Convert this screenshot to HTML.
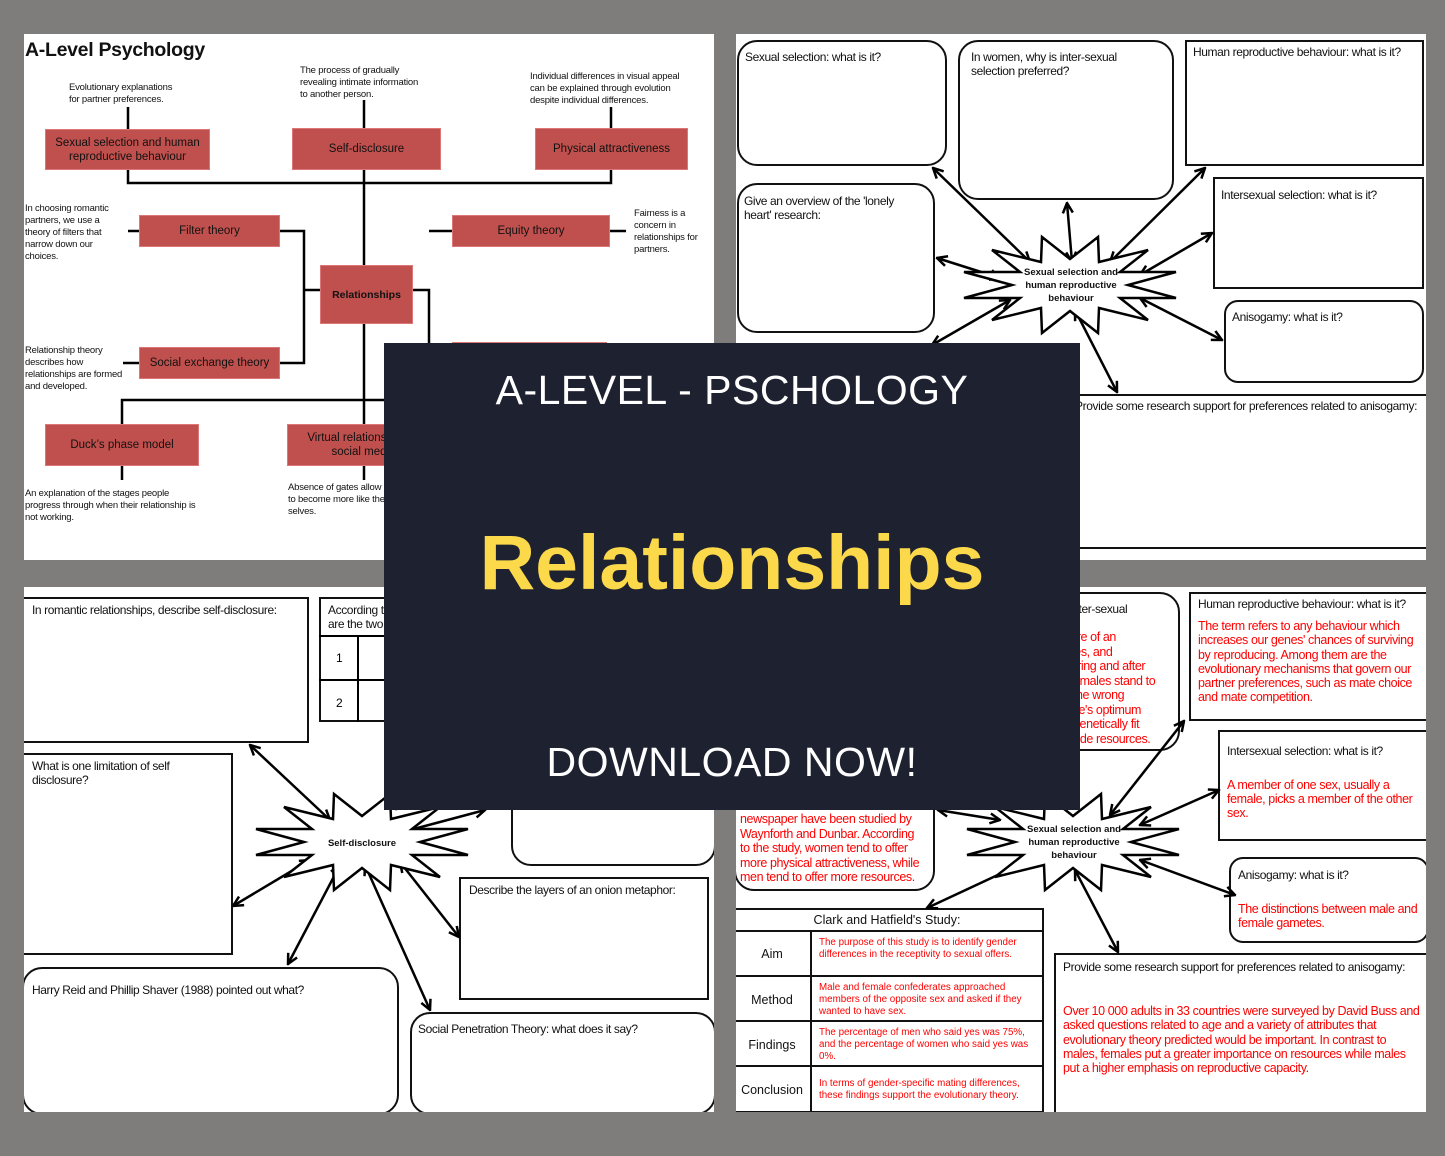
<!DOCTYPE html>
<html><head><meta charset="utf-8"><style>
*{margin:0;padding:0;box-sizing:border-box}
body{width:1445px;height:1156px;background:#7f7c7c;position:relative;overflow:hidden;font-family:"Liberation Sans",Arial,sans-serif;color:#111}
.p{position:absolute;background:#fff;overflow:hidden}
.a{position:absolute}
.g{position:absolute;background:#7f7c7c}
.r{position:absolute;background:#c0504d;border:1px solid #d77;color:#111;font-size:11.5px;display:flex;align-items:center;justify-content:center;text-align:center;line-height:14px}
.t{position:absolute;font-size:9.5px;line-height:12px;letter-spacing:-0.2px}
.b{position:absolute;border:2px solid #111;background:#fff;font-size:12px;letter-spacing:-0.4px;padding:6px 6px;line-height:14px;white-space:nowrap}
.red{color:#f00}
svg{position:absolute;left:0;top:0}
</style></head><body>

<div class="p" style="left:24px;top:34px;width:690px;height:526px"></div>
<div class="p" style="left:736px;top:34px;width:690px;height:526px"></div>
<div class="p" style="left:24px;top:587px;width:690px;height:525px"></div>
<div class="p" style="left:736px;top:587px;width:690px;height:525px"></div>

<svg width="1445" height="1156">
<g stroke="#000" stroke-width="2.5" fill="none">
<path d="M128 107V129M364 100V425M611 107V128M128 170V183H611V170"/>
<path d="M280 231H304V363H280M304 290H320M413 290H429V400M429 231H452M128 231H139M123 363H139M610 231H626"/>
<path d="M122 424V400H430M122 466V480M364 466V480"/>
</g>
</svg>

<div class="a" style="left:25px;top:39px;font-size:19.5px;font-weight:bold;letter-spacing:-0.3px">A-Level Psychology</div>
<div class="t" style="left:69px;top:82px">Evolutionary explanations<br>for partner preferences.</div>
<div class="t" style="left:300px;top:65px">The process of gradually<br>revealing intimate information<br>to another person.</div>
<div class="t" style="left:530px;top:71px">Individual differences in visual appeal<br>can be explained through evolution<br>despite individual differences.</div>
<div class="t" style="left:25px;top:203px">In choosing romantic<br>partners, we use a<br>theory of filters that<br>narrow down our<br>choices.</div>
<div class="t" style="left:634px;top:208px">Fairness is a<br>concern in<br>relationships for<br>partners.</div>
<div class="t" style="left:25px;top:345px">Relationship theory<br>describes how<br>relationships are formed<br>and developed.</div>
<div class="t" style="left:25px;top:488px">An explanation of the stages people<br>progress through when their relationship is<br>not working.</div>
<div class="t" style="left:288px;top:482px">Absence of gates allow people<br>to become more like their<br>selves.</div>

<div class="r" style="left:45px;top:129px;width:165px;height:41px">Sexual selection and human<br>reproductive behaviour</div>
<div class="r" style="left:292px;top:128px;width:149px;height:42px">Self-disclosure</div>
<div class="r" style="left:535px;top:128px;width:153px;height:42px">Physical attractiveness</div>
<div class="r" style="left:139px;top:215px;width:141px;height:32px">Filter theory</div>
<div class="r" style="left:452px;top:215px;width:158px;height:32px">Equity theory</div>
<div class="r" style="left:320px;top:265px;width:93px;height:59px;font-weight:bold;font-size:10.5px">Relationships</div>
<div class="r" style="left:139px;top:347px;width:141px;height:32px">Social exchange theory</div>
<div class="r" style="left:452px;top:342px;width:155px;height:32px"></div>
<div class="r" style="left:45px;top:424px;width:154px;height:42px">Duck’s phase model</div>
<div class="r" style="left:287px;top:424px;width:153px;height:42px">Virtual relationships in<br>social media</div>

<!-- TR -->
<div class="b" style="left:737px;top:40px;width:210px;height:126px;border-radius:20px;padding:8px 6px">Sexual selection: what is it?</div>
<div class="b" style="left:958px;top:40px;width:216px;height:160px;border-radius:20px;padding:8px 11px">In women, why is inter-sexual<br>selection preferred?</div>
<div class="b" style="left:1185px;top:40px;width:239px;height:126px;padding:3px 6px">Human reproductive behaviour: what is it?</div>
<div class="b" style="left:737px;top:183px;width:198px;height:150px;border-radius:20px;padding:9px 5px">Give an overview of the 'lonely<br>heart' research:</div>
<div class="b" style="left:1213px;top:177px;width:211px;height:112px;padding:9px 6px">Intersexual selection: what is it?</div>
<div class="b" style="left:1224px;top:300px;width:200px;height:83px;border-radius:14px;padding:8px 6px">Anisogamy: what is it?</div>
<div class="b" style="left:740px;top:394px;width:700px;height:155px;padding:3px 0 0 333px">Provide some research support for preferences related to anisogamy:</div>

<!-- BL -->
<div class="b" style="left:22px;top:597px;width:287px;height:146px;padding:4px 8px">In romantic relationships, describe self-disclosure:</div>
<div class="b" style="left:319px;top:597px;width:120px;height:125px;padding:4px 7px">According to ... what<br>are the two ...</div>
<svg width="1445" height="1156"><g stroke="#000" stroke-width="2" fill="none"><path d="M319 636H439M319 680H439M358 636V722"/></g>
<text x="336" y="662" font-size="12" font-family="Liberation Sans">1</text><text x="336" y="707" font-size="12" font-family="Liberation Sans">2</text></svg>
<div class="b" style="left:22px;top:753px;width:211px;height:202px;padding:4px 8px">What is one limitation of self<br>disclosure?</div>
<div class="b" style="left:22px;top:967px;width:377px;height:148px;border-radius:20px;padding:14px 8px">Harry Reid and Phillip Shaver (1988) pointed out what?</div>
<div class="b" style="left:410px;top:1012px;width:306px;height:103px;border-radius:20px;padding:8px 6px">Social Penetration Theory: what does it say?</div>
<div class="b" style="left:459px;top:877px;width:250px;height:123px;padding:4px 8px">Describe the layers of an onion metaphor:</div>
<div class="b" style="left:511px;top:760px;width:205px;height:106px;border-radius:20px"></div>

<!-- BR -->
<div class="b" style="left:960px;top:592px;width:220px;height:159px;border-radius:20px;padding:8px 8px"><span style="margin-left:100px">inter-sexual</span><div class="red" style="margin-top:14px;padding-left:40px;line-height:14.5px;font-size:12.5px">providing more of an<br>their resources, and<br>protection during and after<br>pregnancy, females stand to<br>lose more if the wrong<br>choice. A male's optimum<br>is someone genetically fit<br>and can provide resources.</div></div>
<div class="b" style="left:1189px;top:592px;width:240px;height:129px;padding:3px 7px">Human reproductive behaviour: what is it?<div class="red" style="margin-top:8px;font-size:12.5px;line-height:14.3px">The term refers to any behaviour which<br>increases our genes' chances of surviving<br>by reproducing. Among them are the<br>evolutionary mechanisms that govern our<br>partner preferences, such as mate choice<br>and mate competition.</div></div>
<div class="b" style="left:1218px;top:730px;width:211px;height:111px;padding:12px 7px">Intersexual selection: what is it?<div class="red" style="margin-top:20px;font-size:12.5px">A member of one sex, usually a<br>female, picks a member of the other<br>sex.</div></div>
<div class="b" style="left:1229px;top:857px;width:200px;height:86px;border-radius:14px;padding:9px 7px">Anisogamy: what is it?<div class="red" style="margin-top:20px;font-size:12.5px">The distinctions between male and<br>female gametes.</div></div>
<div class="b" style="left:1054px;top:953px;width:376px;height:162px;padding:5px 7px">Provide some research support for preferences related to anisogamy:<div class="red" style="margin-top:30px;font-size:12.5px;line-height:14.3px">Over 10 000 adults in 33 countries were surveyed by David Buss and<br>asked questions related to age and a variety of attributes that<br>evolutionary theory predicted would be important.  In contrast to<br>males, females put a greater importance on resources while males<br>put a higher emphasis on reproductive capacity.</div></div>
<div class="b" style="left:734px;top:700px;width:201px;height:191px;border-radius:20px;padding:0 4px"><div class="red" style="position:absolute;left:4px;top:110px;font-size:12.5px;line-height:14.5px">newspaper have been studied by<br>Waynforth and Dunbar. According<br>to the study, women tend to offer<br>more physical attractiveness, while<br>men tend to offer more resources.</div></div>

<div class="a" style="left:736px;top:908px;width:308px;height:205px;border:2px solid #111;background:#fff;border-left:none"></div>
<svg width="1445" height="1156"><g stroke="#111" stroke-width="2" fill="none"><path d="M736 931H1043M736 976H1043M736 1021H1043M736 1066H1043M811 931V1112"/></g>
<g font-family="Liberation Sans" font-size="12.5" fill="#111" text-anchor="middle"><text x="887" y="924">Clark and Hatfield's Study:</text><text x="772" y="958">Aim</text><text x="772" y="1004">Method</text><text x="772" y="1049">Findings</text><text x="772" y="1094">Conclusion</text></g>
<g font-family="Liberation Sans" font-size="9.8" fill="#f00"><text x="819" y="945">The purpose of this study is to identify gender</text><text x="819" y="957">differences in the receptivity to sexual offers.</text>
<text x="819" y="990">Male and female confederates approached</text><text x="819" y="1002">members of the opposite sex and asked if they</text><text x="819" y="1014">wanted to have sex.</text>
<text x="819" y="1035">The percentage of men who said yes was 75%,</text><text x="819" y="1047">and the percentage of women who said yes was</text><text x="819" y="1059">0%.</text>
<text x="819" y="1086">In terms of gender-specific mating differences,</text><text x="819" y="1098">these findings support the evolutionary theory.</text></g></svg>

<svg width="1445" height="1156">
<defs><marker id="m" viewBox="0 0 10 10" refX="9" refY="5" markerWidth="5" markerHeight="5" orient="auto-start-reverse"><path d="M1 1L9 5L1 9" fill="none" stroke="#000" stroke-width="2"/></marker></defs>
<g stroke="#000" stroke-width="2.5" fill="none" marker-start="url(#m)" marker-end="url(#m)">
<path d="M1030 262L933 168"/><path d="M1072 262L1067 203"/><path d="M1110 262L1205 168"/><path d="M1140 275L1212 233"/><path d="M1140 298L1222 340"/><path d="M1075 310L1117 392"/><path d="M1000 278L937 258"/><path d="M1010 300L932 345"/>
<path d="M330 820L250 745"/><path d="M310 860L233 906"/><path d="M340 865L288 964"/><path d="M365 865L430 1010"/><path d="M400 862L459 937"/><path d="M410 830L485 810"/><path d="M375 820L400 800"/>
<path d="M1030 860L927 908"/><path d="M1075 870L1118 952"/><path d="M1140 860L1235 895"/><path d="M1140 825L1219 790"/><path d="M1110 815L1184 721"/><path d="M1000 820L938 810"/>
</g>
<g stroke="#000" stroke-width="2.5" fill="#fff">
<polygon transform="translate(1070,285)" points="58,0 106,13 50,13 78,35 29,23 28,48 0,26 -28,48 -29,23 -78,35 -50,13 -106,13 -58,0 -106,-13 -50,-13 -78,-35 -29,-23 -28,-48 0,-26 28,-48 29,-23 78,-35 50,-13 106,-13"/>
<polygon transform="translate(362,842)" points="58,0 106,13 50,13 78,35 29,23 28,48 0,26 -28,48 -29,23 -78,35 -50,13 -106,13 -58,0 -106,-13 -50,-13 -78,-35 -29,-23 -28,-48 0,-26 28,-48 29,-23 78,-35 50,-13 106,-13"/>
<polygon transform="translate(1073,842)" points="58,0 106,13 50,13 78,35 29,23 28,48 0,26 -28,48 -29,23 -78,35 -50,13 -106,13 -58,0 -106,-13 -50,-13 -78,-35 -29,-23 -28,-48 0,-26 28,-48 29,-23 78,-35 50,-13 106,-13"/>
</g>
<g font-family="Liberation Sans" font-size="9.5" font-weight="bold" text-anchor="middle" fill="#111">
<text x="1071" y="275">Sexual selection and</text><text x="1071" y="288">human reproductive</text><text x="1071" y="301">behaviour</text>
<text x="362" y="846">Self-disclosure</text>
<text x="1074" y="832">Sexual selection and</text><text x="1074" y="845">human reproductive</text><text x="1074" y="858">behaviour</text>
</g>
</svg>

<!-- gray gutters -->
<div class="g" style="left:1426px;top:0;width:19px;height:1156px"></div>
<div class="g" style="left:714px;top:0;width:22px;height:1156px"></div>
<div class="g" style="left:0;top:1112px;width:1445px;height:44px"></div>
<div class="g" style="left:0;top:560px;width:1445px;height:27px"></div>
<div class="g" style="left:0;top:0;width:24px;height:1156px"></div>

<div class="a" style="left:384px;top:343px;width:696px;height:467px;background:#1e2130;color:#fff;text-align:center">
<div style="position:absolute;top:24px;width:100%;font-size:41px;letter-spacing:0.5px;font-family:'Liberation Sans',sans-serif">A-LEVEL - PSCHOLOGY</div>
<div style="position:absolute;top:176px;width:100%;font-size:77px;font-weight:bold;color:#fbd94a;font-family:'Liberation Sans',sans-serif">Relationships</div>
<div style="position:absolute;top:396px;width:100%;font-size:41px;letter-spacing:0.5px;font-family:'Liberation Sans',sans-serif">DOWNLOAD NOW!</div>
</div>
</body></html>
